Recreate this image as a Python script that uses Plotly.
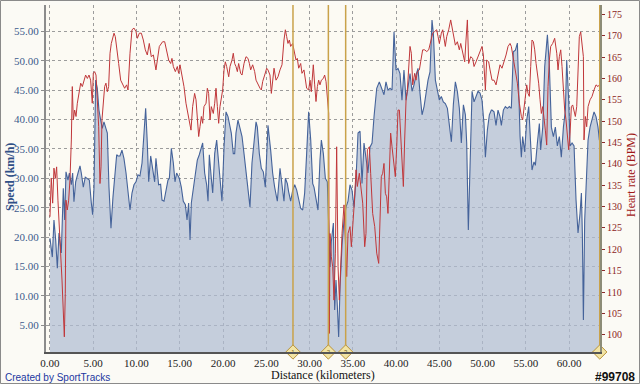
import plotly.graph_objects as go

# ---------------- data ----------------
speed_km = [0.00,0.27,0.46,0.66,0.85,1.04,1.31,1.54,1.70,1.85,2.08,2.24,2.47,2.62,2.77,2.97,3.24,3.47,3.62,3.85,
            4.08,4.32,4.55,4.78,4.93,5.09,5.28,5.47,5.66,5.86,6.05,6.24,6.44,6.63,6.82,7.05,7.28,7.48,7.71,7.86,
            8.09,8.32,8.55,8.79,9.02,9.25,9.48,9.71,9.94,10.17,10.40,10.64,10.87,11.06,11.25,11.41,11.64,11.87,12.10,
            12.25,12.56,12.79,12.95,13.18,13.41,13.64,13.80,14.03,14.26,14.45,14.64,14.95,15.18,15.41,15.65,15.84,16.03,16.19,16.34,
            16.57,16.80,17.03,17.26,17.50,17.65,17.88,18.11,18.27,18.42,18.65,18.81,19.04,19.27,19.50,19.73,19.88,20.12,20.35,20.58,
            20.81,20.96,21.19,21.35,21.50,21.73,21.97,22.20,22.43,22.66,22.89,23.12,23.35,23.58,23.82,23.97,24.20,24.43,24.66,24.89,
            25.20,25.51,25.74,25.97,26.28,26.59,26.82,27.05,27.21,27.44,27.59,27.82,28.05,28.29,28.52,28.75,28.98,29.21,29.44,29.67,
            29.90,30.14,30.37,30.52,30.75,30.98,31.21,31.37,31.60,31.83,32.06,32.22,32.37,32.52,32.76,32.91,33.06,33.22,33.37,33.53,
            33.76,33.99,34.22,34.45,34.68,34.91,35.15,35.38,35.61,35.84,36.07,36.30,36.53,36.76,36.99,37.23,37.46,37.77,38.07,
            38.38,38.61,38.84,39.07,39.31,39.54,39.77,40.00,40.23,40.46,40.69,40.92,41.16,41.39,41.62,41.85,42.08,42.31,42.54,42.77,
            43.01,43.24,43.47,43.70,43.93,44.16,44.32,44.55,44.78,45.01,45.24,45.47,45.70,45.94,46.17,46.40,46.63,46.86,47.09,47.32,
            47.55,47.79,48.02,48.17,48.36,48.56,48.79,49.02,49.25,49.48,49.71,49.94,50.17,50.33,50.56,50.79,51.02,
            51.10,51.33,51.56,51.79,52.02,52.18,52.41,52.64,52.87,53.10,53.33,53.56,53.80,54.03,54.18,54.34,54.49,54.64,54.87,55.11,
            55.34,55.49,55.72,55.95,56.11,56.34,56.57,56.72,56.96,57.19,57.50,57.73,57.96,58.19,58.42,58.65,58.88,59.11,59.35,59.58,
            59.73,59.96,60.12,60.35,60.58,60.81,61.04,61.27,61.43,61.54,61.66,61.81,61.97,62.20,62.43,62.66,62.89,63.12,63.35,63.51]
speed_kmh = [19.8,16.6,22.9,19.5,14.7,20.7,17.3,28.3,22.9,31.1,29.7,30.9,28.9,30.9,26.0,29.4,30.9,32.1,30.9,28.5,
             30.2,30.0,29.7,25.8,23.8,28.5,46.7,45.3,41.6,39.9,38.5,39.6,38.7,37.7,28.5,21.5,26.8,30.9,34.0,33.8,
             33.8,34.8,33.4,30.9,27.5,24.6,27.5,28.9,29.4,30.6,30.4,32.6,37.7,41.9,36.0,29.4,33.8,31.9,29.4,
             33.4,28.9,29.0,26.3,26.1,28.0,29.7,30.0,35.1,32.6,29.4,30.9,30.0,28.5,26.1,25.5,22.9,25.8,19.5,25.8,
             28.5,30.9,33.1,34.0,35.1,36.0,30.9,28.9,26.1,34.0,30.0,27.5,34.2,36.5,32.6,28.5,26.1,35.3,41.3,40.5,
             38.7,37.7,34.2,34.2,37.7,39.9,38.5,37.1,34.2,30.9,28.5,25.1,32.6,36.5,39.6,38.7,34.2,31.7,31.1,28.5,
             39.0,34.8,30.9,28.5,26.1,31.7,28.5,26.1,30.0,29.1,27.7,26.1,27.9,28.9,28.0,26.1,24.9,24.6,27.5,34.2,
             41.3,36.5,29.1,28.5,26.8,24.6,33.1,36.5,34.2,30.0,29.4,20.7,14.9,19.2,22.4,7.6,12.7,8.2,3.0,11.6,
             18.6,22.9,25.1,26.1,28.9,28.0,25.1,30.0,37.7,38.0,29.1,36.0,33.8,30.9,35.3,36.0,40.5,45.3,46.4,
             45.0,44.2,46.4,45.0,45.3,45.0,54.9,48.4,48.7,47.8,43.3,48.4,43.3,45.6,47.8,44.8,45.9,47.5,48.7,44.5,
             40.8,42.2,44.5,46.7,48.1,56.9,54.6,46.7,45.0,43.3,43.9,43.0,42.7,41.9,39.0,36.2,42.6,46.4,44.8,41.9,
             36.0,42.5,40.8,36.0,21.2,34.2,44.8,43.0,43.9,44.8,44.5,43.3,39.3,33.6,38.2,40.8,41.6,
             41.6,41.3,39.0,41.6,40.5,39.0,41.6,42.2,41.9,42.2,41.9,51.5,51.8,53.0,43.3,37.1,33.6,37.1,34.5,39.9,
             42.2,37.7,31.4,32.8,32.2,36.0,39.3,34.8,38.7,49.0,54.4,49.0,38.7,37.1,38.7,35.5,37.1,33.6,38.7,41.6,
             50.1,43.3,35.5,36.0,35.5,26.3,20.7,24.0,27.5,20.7,5.9,22.9,28.5,36.5,38.7,39.9,41.3,40.5,38.7,36.5]

hr_km = [0.00,0.15,0.31,0.46,0.62,0.77,0.92,1.08,1.23,1.39,1.54,1.66,1.77,1.85,2.00,2.16,2.31,2.47,2.58,2.70,
         2.85,3.01,3.16,3.35,3.55,3.74,3.93,4.12,4.32,4.51,4.70,4.89,5.01,5.16,5.32,5.47,5.63,5.78,5.90,6.01,
         6.17,6.32,6.47,6.63,6.78,6.94,7.09,7.24,7.40,7.55,7.71,7.94,8.17,8.40,8.63,8.86,9.02,9.25,9.48,9.71,
         9.94,10.10,10.33,10.56,10.79,11.02,11.25,11.48,11.71,11.95,12.18,
         12.25,12.64,13.02,13.26,13.49,13.72,13.95,14.10,14.26,14.49,14.72,14.87,15.03,15.26,15.49,15.72,15.95,16.11,16.30,16.49,
         16.72,16.88,17.03,17.19,17.34,17.50,17.65,17.80,18.04,18.19,18.34,18.50,18.65,18.88,19.04,19.19,19.35,19.50,19.65,19.81,
         19.96,20.12,20.27,20.42,20.66,20.81,21.04,21.19,21.35,21.50,21.66,21.81,22.04,22.20,22.43,22.66,22.89,23.05,23.20,23.43,
         23.66,23.82,24.05,24.28,24.43,24.59,24.82,25.05,
         25.20,25.43,25.59,25.74,25.90,26.13,26.36,26.59,26.82,27.05,27.21,27.36,27.51,27.67,27.82,28.05,28.21,28.44,28.59,28.75,
         28.98,29.13,29.36,29.52,29.67,29.90,30.06,30.21,30.44,30.60,30.75,30.91,31.06,31.21,31.37,31.60,31.75,31.91,32.06,32.22,
         32.29,32.37,32.52,32.68,32.83,32.99,33.14,33.30,33.45,33.60,33.76,33.99,34.14,34.30,34.45,34.68,34.84,34.99,35.15,35.38,
         35.53,35.76,35.92,36.15,36.38,36.53,36.69,36.92,37.07,37.30,37.54,37.77,38.00,
         38.30,38.46,38.61,38.77,38.92,39.07,39.23,39.38,39.54,39.69,39.92,40.08,40.23,40.39,40.54,40.69,40.85,41.00,41.16,41.31,
         41.46,41.62,41.77,41.93,42.16,42.31,42.47,42.70,42.85,43.08,43.31,43.55,43.78,44.01,44.24,44.47,44.70,44.86,45.01,45.24,
         45.40,45.55,45.70,45.86,46.09,46.32,46.47,46.63,46.86,47.09,47.32,47.48,47.71,47.94,48.09,48.25,48.40,48.63,48.86,49.02,
         49.25,49.48,49.71,49.94,50.10,50.33,50.48,50.71,50.87,51.10,
         51.33,51.56,51.79,52.02,52.25,52.49,52.72,52.95,53.18,53.33,53.49,53.64,53.80,54.03,54.26,54.49,54.64,54.80,54.95,55.11,
         55.26,55.41,55.57,55.72,55.88,56.03,56.19,56.34,56.49,56.65,56.80,56.96,57.11,57.26,57.42,57.57,57.73,57.88,58.11,58.34,
         58.58,58.73,58.88,59.04,59.19,59.35,59.50,59.65,59.81,59.96,60.12,60.27,60.42,60.58,60.73,60.89,61.04,61.19,61.35,61.50,
         61.66,61.73,61.89,62.04,62.20,62.43,62.66,62.89,63.12,63.35,63.51,63.66]
hr_bpm = [127.6,136.7,130.8,139.0,136.6,139.3,131.5,123.0,119.1,112.8,103.4,99.5,109.7,131.5,129.2,131.5,136.2,145.6,158.1,150.3,
          152.6,151.1,154.2,156.5,158.9,158.1,159.6,160.8,160.0,160.8,159.6,154.2,161.2,161.6,160.8,155.0,148.7,135.4,139.3,150.3,
          155.0,158.1,158.9,156.9,158.1,165.9,168.2,169.8,170.6,169.8,167.5,163.5,159.6,158.5,157.7,158.5,157.3,165.9,171.4,171.8,
          171.0,169.4,170.6,170.6,169.0,166.7,165.5,168.2,165.1,165.5,162.0,
          162.0,167.5,168.6,168.6,166.7,164.3,163.5,164.7,162.8,161.6,162.8,161.2,163.2,160.8,158.1,154.2,151.8,150.3,147.9,153.4,
          156.5,155.0,150.3,146.4,148.7,151.1,149.5,153.4,154.2,157.7,156.5,150.3,153.4,151.8,154.2,157.7,153.4,149.5,153.4,155.0,
          157.3,162.0,163.9,162.8,160.4,162.8,164.3,165.9,163.5,162.8,161.6,163.5,161.2,160.8,163.5,165.1,164.7,163.5,162.0,163.2,
          161.6,159.6,158.5,157.7,157.3,159.3,160.8,162.4,
          162.0,160.8,156.5,160.4,162.4,159.6,160.4,162.0,163.2,169.0,171.4,169.8,168.2,169.0,167.5,168.2,166.3,164.3,164.7,162.4,
          163.5,161.2,162.0,159.6,157.7,157.3,159.6,156.9,163.2,158.5,154.6,158.1,159.6,158.5,159.6,160.0,160.8,159.3,155.0,151.8,
          100.3,123.7,118.3,115.9,108.1,119.1,144.0,115.9,108.1,117.5,123.7,130.4,119.1,113.6,123.7,125.3,120.6,126.9,130.0,138.6,
          134.7,137.8,134.7,130.8,120.6,123.7,143.3,144.0,137.8,128.4,125.3,119.1,116.7,
          137.0,137.8,140.1,133.1,132.3,128.4,137.8,147.2,144.0,140.9,137.0,144.0,152.6,152.6,145.6,140.9,134.7,145.6,155.0,157.3,
          162.8,167.5,165.9,158.5,161.2,159.6,161.6,162.0,163.9,166.7,166.7,166.3,166.7,168.6,170.6,171.0,171.4,169.8,168.2,170.6,
          171.4,169.4,167.5,169.8,171.4,173.7,172.1,169.8,167.8,168.6,166.7,168.2,165.9,163.9,169.0,173.7,163.5,165.1,164.7,162.8,
          163.9,165.1,166.7,167.5,165.5,157.3,164.3,163.9,162.0,159.6,
          159.6,158.5,160.8,163.2,162.4,163.9,165.5,167.5,168.2,167.5,165.5,164.3,162.0,158.9,154.2,151.1,150.3,153.4,156.5,158.5,
          156.5,155.8,162.8,169.0,168.6,166.7,163.5,161.2,158.9,155.0,151.8,153.4,151.1,147.9,144.4,158.1,164.3,167.5,168.2,169.4,
          165.9,162.0,165.1,166.7,162.8,157.3,152.6,150.3,145.6,143.3,147.2,153.4,153.8,152.6,151.1,153.4,163.5,169.8,170.9,168.2,
          165.1,145.6,151.1,148.7,153.4,155.0,155.8,157.3,158.5,158.1,158.5,156.5]

marker_km = [28.09, 32.18, 34.18, 63.55]
marker_labels = ["1", "2", "3", ""]

x_range = [-0.46, 63.58]
speed_range = [0.46, 59.47]
hr_range = [95.95, 177.2]

# ---------------- figure ----------------
W, H = 640, 384
ML, MR, MT, MB = 46, 40, 5, 32
PW, PH = W - ML - MR, H - MT - MB


def px_x(px):
    return (px - ML) / PW


def px_y(py):
    return (H - MB - py) / PH


serif = "Liberation Serif"
fig = go.Figure()

fig.add_trace(go.Scatter(
    x=speed_km, y=speed_kmh, mode="lines", fill="tozeroy",
    fillcolor="rgba(176,188,210,0.72)",
    line=dict(color="#45639A", width=1.1), yaxis="y", hoverinfo="skip"))

fig.add_trace(go.Scatter(
    x=hr_km, y=hr_bpm, mode="lines",
    line=dict(color="#C0373A", width=1.0), yaxis="y2", hoverinfo="skip"))

line_x, line_y = [], []
for d in marker_km:
    line_x += [d, d, None]
    line_y += [0, 1, None]
fig.add_trace(go.Scatter(
    x=line_x, y=line_y, mode="lines", line=dict(color="#C9A24A", width=1.5),
    yaxis="y3", hoverinfo="skip"))
fig.add_trace(go.Scatter(
    x=marker_km, y=[0] * len(marker_km), mode="markers+text", text=marker_labels,
    textposition="middle center", textfont=dict(size=6, color="#6b5a20", family="Arial"),
    marker=dict(symbol="diamond", size=11, color="#F2E4A4", line=dict(color="#B8923A", width=1)),
    yaxis="y3", cliponaxis=False, hoverinfo="skip"))

fig.update_layout(
    width=W, height=H, margin=dict(l=ML, r=MR, t=MT, b=MB),
    paper_bgcolor="#FBFAF5", plot_bgcolor="#FCFAF3", showlegend=False,
    xaxis=dict(range=x_range, dtick=5, tick0=0, tickformat=".2f", showgrid=True,
               gridcolor="#9C9C9C", griddash="dot", gridwidth=1, zeroline=False,
               showline=True, linecolor="#555555", linewidth=2, ticks="",
               tickfont=dict(family=serif, size=11, color="#222222")),
    yaxis=dict(range=speed_range, dtick=5, tick0=0, tickformat=".2f", showgrid=True,
               gridcolor="#9C9C9C", griddash="dot", gridwidth=1, zeroline=False,
               showline=True, linecolor="#8C8C8C", linewidth=2, ticks="outside", ticklen=3,
               tickcolor="#8C8C8C", tickfont=dict(family=serif, size=11, color="#3C5A8C")),
    yaxis2=dict(range=hr_range, dtick=5, tick0=100, overlaying="y", side="right",
                showgrid=False, zeroline=False, showline=True, linecolor="#8C8C78", linewidth=2,
                ticks="outside", ticklen=3, tickcolor="#8B2A2A",
                tickfont=dict(family=serif, size=10, color="#8B1C1C")),
    yaxis3=dict(range=[0, 1], overlaying="y", visible=False),
    annotations=[
        dict(text="Distance (kilometers)", x=0.5, y=px_y(375), xref="paper", yref="paper",
             showarrow=False, xanchor="center", yanchor="middle",
             font=dict(family=serif, size=12, color="#111111")),
        dict(text="<b>Speed (km/h)</b>", x=px_x(10), y=px_y(177), xref="paper", yref="paper",
             showarrow=False, textangle=-90, xanchor="center", yanchor="middle",
             font=dict(family=serif, size=12, color="#2F4F86")),
        dict(text="Heart rate (BPM)", x=px_x(631), y=px_y(175), xref="paper", yref="paper",
             showarrow=False, textangle=-90, xanchor="center", yanchor="middle",
             font=dict(family=serif, size=12, color="#A01818")),
        dict(text="Created by SportTracks", x=px_x(3), y=px_y(377), xref="paper", yref="paper",
             showarrow=False, xanchor="left", yanchor="middle",
             font=dict(family="Liberation Sans", size=10, color="#2236A0")),
        dict(text="<b>#99708</b>", x=px_x(637), y=px_y(377), xref="paper", yref="paper",
             showarrow=False, xanchor="right", yanchor="middle",
             font=dict(family="Liberation Sans", size=12, color="#111111")),
    ],
    shapes=[dict(type="rect", xref="paper", yref="paper",
                 x0=px_x(0.5), x1=px_x(W - 0.5), y0=px_y(H - 0.5), y1=px_y(0.5),
                 line=dict(color="#8A8A8A", width=1), layer="below")],
)

fig.write_html("out.html", config={"displayModeBar": False},
               post_script="document.body.style.margin='0';document.body.style.overflow='hidden';")
